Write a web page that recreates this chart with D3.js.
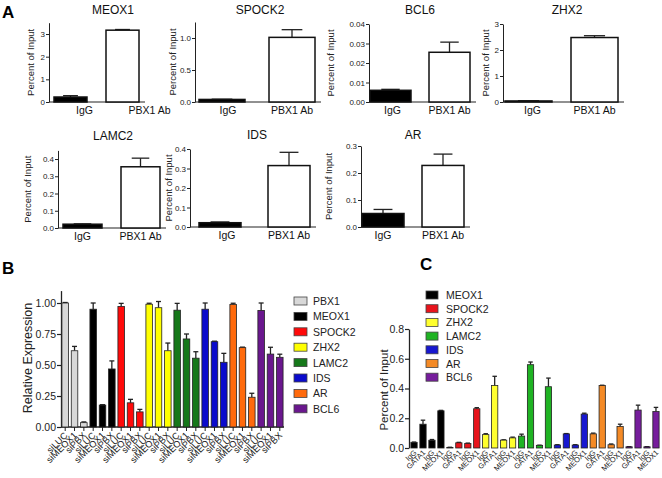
<!DOCTYPE html>
<html><head><meta charset="utf-8">
<script src="https://cdn.jsdelivr.net/npm/d3@7/dist/d3.min.js"></script>
<style>
html,body{margin:0;padding:0;background:#fff;}
svg{display:block;font-family:"Liberation Sans",Arial,sans-serif;}
</style></head>
<body><svg id="c" width="662" height="478"></svg>
<script>
// ---------- Panel A : ChIP (percent of input) ----------
const chipGenes = ["MEOX1","SPOCK2","BCL6","ZHX2","LAMC2","IDS","AR"];
const chipGroups = ["IgG","PBX1 Ab"];
const chipMeans = [[0.22,3.17],[0.04,1.01],[0.006,0.0255],[0.04,2.48],[0.022,0.355],[0.022,0.315],[0.05,0.228]];
const chipErr   = [[0.06,0.03],[0.004,0.12],[0.0005,0.0052],[0.008,0.07],[0.002,0.05],[0.004,0.068],[0.015,0.042]];
const chipMax   = [3.5,1.25,0.04,3,0.45,0.4,0.3];
const chipTicks = [[0,1,2,3],[0,0.5,1],[0,0.01,0.02,0.03,0.04],[0,1,2,3],[0,0.1,0.2,0.3,0.4],[0,0.1,0.2,0.3,0.4],[0,0.1,0.2,0.3]];
const chipTickFmt = [".0f",".1f",".2f",".0f",".1f",".1f",".1f"];

// ---------- Panel B : knockdown relative expression ----------
const kdGenes = ["PBX1","MEOX1","SPOCK2","ZHX2","LAMC2","IDS","AR","BCL6"];
const kdSi = ["siLUC","siMEOX1","siPBX"];
const kdMeans = [[1.0,0.615,0.035],[0.95,0.177,0.468],[0.972,0.195,0.122],[0.99,0.962,0.615],[0.942,0.71,0.555],[0.95,0.688,0.522],[0.988,0.64,0.24],[0.94,0.588,0.562]];
const kdErr   = [[0.004,0.035,0.006],[0.05,0.003,0.065],[0.025,0.028,0.02],[0.008,0.05,0.062],[0.055,0.04,0.052],[0.05,0.004,0.072],[0.01,0.004,0.032],[0.06,0.055,0.025]];
const kdTicks = [0,0.25,0.5,0.75,1.0];

// ---------- Panel C : GATA1 / MEOX1 ChIP ----------
const cGenes = ["MEOX1","SPOCK2","ZHX2","LAMC2","IDS","AR","BCL6"];
const cAb = ["IgG","GATA1","IgG","MEOX1"];
const cMeans = [[0.038,0.16,0.052,0.25],[0.004,0.035,0.03,0.264],[0.09,0.42,0.053,0.068],[0.08,0.56,0.018,0.412],[0.02,0.095,0.02,0.228],[0.095,0.42,0.022,0.145],[0.008,0.255,0.008,0.245]];
const cErr   = [[0.002,0.027,0.005,0.003],[0.001,0.003,0.003,0.007],[0.006,0.062,0.002,0.005],[0.013,0.018,0.001,0.058],[0.002,0.002,0.002,0.006],[0.005,0.002,0.005,0.015],[0.001,0.033,0.001,0.028]];
const cTicks = [0,0.2,0.4,0.6,0.8];

const kdColors = {PBX1:"#d8d8d8",MEOX1:"#000000",SPOCK2:"#ff0a0a",ZHX2:"#ffff00",LAMC2:"#16781a",IDS:"#0a0acc",AR:"#ff6a0c",BCL6:"#6a178e"};
const cColors  = {MEOX1:"#000000",SPOCK2:"#e8141c",ZHX2:"#ffff2e",LAMC2:"#1fb323",IDS:"#1717d0",AR:"#f48a26",BCL6:"#761d9c"};

const svg = d3.select("#c");
const AX = "#222";

function errBar(g, cx, yTop, yErr, cap){
  g.append("line").attr("x1",cx).attr("x2",cx).attr("y1",yTop).attr("y2",yErr).attr("stroke",AX).attr("stroke-width",1.3);
  g.append("line").attr("x1",cx-cap/2).attr("x2",cx+cap/2).attr("y1",yErr).attr("y2",yErr).attr("stroke",AX).attr("stroke-width",1.3);
}

// panel letters
svg.append("text").attr("x",2).attr("y",18).attr("font-size",17).attr("font-weight","bold").text("A");
svg.append("text").attr("x",2).attr("y",274).attr("font-size",17).attr("font-weight","bold").text("B");
svg.append("text").attr("x",420).attr("y",270).attr("font-size",17).attr("font-weight","bold").text("C");

// ---------- draw panel A ----------
const aLayout = [
  {ax:49, off:5, step:52, bw:33, base:102, h:79.3, title:113, ytx:34, lab:[14,27]},
  {ax:195,off:4, step:70, bw:46, base:102, h:80, title:260, ytx:176, lab:[6,0]},
  {ax:369,off:1, step:59, bw:41, base:102, h:78, title:420, ytx:334, lab:[2,0]},
  {ax:503,off:2, step:66, bw:47, base:102, h:78, title:567, ytx:489, lab:[4,0]},
  {ax:58, off:5, step:58, bw:39, base:228, h:77.6, title:113, ytx:31, lab:[0,0]},
  {ax:190,off:9, step:69, bw:42, base:227, h:78, title:257, ytx:172, lab:[7,0]},
  {ax:361,off:1, step:60, bw:42, base:227, h:81, title:413, ytx:332, lab:[0,0]}
];
chipGenes.forEach((gene,i)=>{
  const L = aLayout[i];
  const g = svg.append("g");
  const y = d3.scaleLinear().domain([0,chipMax[i]]).range([L.base, L.base-L.h]);
  const x = d3.scaleBand().domain(chipGroups).range([L.ax+L.off, L.ax+L.off+L.step+L.bw]).paddingInner((L.step-L.bw)/L.step).paddingOuter(0);
  const yAxis = d3.axisLeft(y).tickValues(chipTicks[i]).tickFormat(d3.format(chipTickFmt[i])).tickSize(3).tickSizeOuter(0);
  const ga = g.append("g").attr("transform",`translate(${L.ax},0)`).call(yAxis);
  ga.select(".domain").attr("stroke",AX).attr("stroke-width",1);
  ga.selectAll(".tick line").attr("stroke",AX);
  ga.selectAll(".tick text").attr("font-size",8).attr("fill","#222").attr("x",-4).attr("font-family","Liberation Sans, Arial");
  g.append("line").attr("x1",L.ax).attr("x2",x("PBX1 Ab")+x.bandwidth()+6).attr("y1",L.base).attr("y2",L.base).attr("stroke",AX).attr("stroke-width",1);
  chipGroups.forEach((grp,j)=>{
    const v = chipMeans[i][j], e = chipErr[i][j];
    const bx = x(grp), bw = x.bandwidth();
    errBar(g, bx+bw/2, y(v), y(v+e), bw*0.45);
    g.append("rect").attr("x",bx).attr("y",y(v)).attr("width",bw).attr("height",L.base-y(v))
      .attr("fill", j===0?"#000":"#fff").attr("stroke","#111").attr("stroke-width",1.5);
    g.append("text").attr("x",bx+bw/2+L.lab[j]).attr("y",L.base+12).attr("text-anchor","middle")
      .attr("font-size",10.5).attr("fill","#111").text(grp);
  });
  g.append("text").attr("x",L.title).attr("y",L.base-88).attr("text-anchor","middle")
    .attr("font-size",12).attr("fill","#111").text(gene);
  g.append("text").attr("transform",`translate(${L.ytx},${L.base-L.h/2}) rotate(-90)`).attr("text-anchor","middle")
    .attr("font-size",9.5).attr("fill","#222").text("Percent of Input");
});

// ---------- draw panel B ----------
(function(){
  const g = svg.append("g");
  const base = 427, ax = 61;
  const y = d3.scaleLinear().domain([0,1.1]).range([base, base-136.4]);
  const idx = d3.range(kdGenes.length*kdSi.length);
  const x = d3.scaleBand().domain(idx).range([ax, 284]).paddingInner(0.3).paddingOuter(0.1);
  const yAxis = d3.axisLeft(y).tickValues(kdTicks).tickFormat(d3.format(".2f")).tickSize(4).tickSizeOuter(0);
  const ga = g.append("g").attr("transform",`translate(${ax},0)`).call(yAxis);
  ga.select(".domain").attr("stroke",AX).attr("stroke-width",1.3);
  ga.selectAll(".tick line").attr("stroke",AX).attr("stroke-width",1.2);
  ga.selectAll(".tick text").attr("font-size",10.5).attr("fill","#222").attr("x",-5).attr("font-family","Liberation Sans Narrow, Liberation Sans, Arial");
  g.append("line").attr("x1",ax).attr("x2",284).attr("y1",base).attr("y2",base).attr("stroke",AX).attr("stroke-width",1.3);
  kdGenes.forEach((gene,i)=>{
    kdSi.forEach((si,j)=>{
      const k = i*kdSi.length+j;
      const v = kdMeans[i][j], e = kdErr[i][j];
      const bx = x(k), bw = x.bandwidth(), cx = bx+bw/2;
      errBar(g, cx, y(v), y(v+e), 5);
      g.append("rect").attr("x",bx).attr("y",y(v)).attr("width",bw).attr("height",base-y(v))
        .attr("fill",kdColors[gene]).attr("stroke","#222").attr("stroke-width",0.8);
      g.append("line").attr("x1",cx).attr("x2",cx).attr("y1",base).attr("y2",base+4).attr("stroke",AX).attr("stroke-width",1);
      g.append("text").attr("transform",`translate(${cx+3},${base+9}) rotate(-45)`).attr("text-anchor","end")
        .attr("font-size",9.2).attr("fill","#222").text(si);
    });
  });
  g.append("text").attr("transform",`translate(32,358) rotate(-90)`).attr("text-anchor","middle")
    .attr("font-size",12.5).attr("fill","#222").text("Relative Expression");
  kdGenes.forEach((gene,i)=>{
    const ly = 301 + i*15.4;
    g.append("rect").attr("x",294).attr("y",ly-4).attr("width",13).attr("height",8).attr("fill",kdColors[gene]).attr("stroke","#444").attr("stroke-width",0.8);
    g.append("text").attr("x",313).attr("y",ly+4).attr("font-size",10.5).attr("fill","#222").text(gene);
  });
})();

// ---------- draw panel C ----------
(function(){
  const g = svg.append("g");
  const base = 448, ax = 409;
  const y = d3.scaleLinear().domain([0,0.8]).range([base, 329]);
  const idx = d3.range(cGenes.length*cAb.length);
  const x = d3.scaleBand().domain(idx).range([410, 660]).paddingInner(0.3).paddingOuter(0.1);
  const yAxis = d3.axisLeft(y).tickValues(cTicks).tickFormat(d3.format(".1f")).tickSize(4).tickSizeOuter(0);
  const ga = g.append("g").attr("transform",`translate(${ax},0)`).call(yAxis);
  ga.select(".domain").attr("stroke",AX).attr("stroke-width",1.3);
  ga.selectAll(".tick line").attr("stroke",AX).attr("stroke-width",1.2);
  ga.selectAll(".tick text").attr("font-size",10.5).attr("fill","#222").attr("x",-5);
  cGenes.forEach((gene,i)=>{
    cAb.forEach((ab,j)=>{
      const k = i*cAb.length+j;
      const v = cMeans[i][j], e = cErr[i][j];
      const bx = x(k), bw = x.bandwidth(), cx = bx+bw/2;
      errBar(g, cx, y(v), y(v+e), 4.5);
      g.append("rect").attr("x",bx).attr("y",y(v)).attr("width",bw).attr("height",base-y(v))
        .attr("fill",cColors[gene]).attr("stroke","#222").attr("stroke-width",0.8);
      g.append("text").attr("transform",`translate(${cx+3},${base+5}) rotate(-45)`).attr("text-anchor","end")
        .attr("font-size",7.5).attr("fill","#222").text(ab);
    });
  });
  g.append("text").attr("transform",`translate(388,390) rotate(-90)`).attr("text-anchor","middle")
    .attr("font-size",11.5).attr("fill","#222").text("Percent of Input");
  cGenes.forEach((gene,i)=>{
    const ly = 295 + i*13.7;
    g.append("rect").attr("x",426).attr("y",ly-4).attr("width",12).attr("height",8).attr("fill",cColors[gene]).attr("stroke","#444").attr("stroke-width",0.8);
    g.append("text").attr("x",446).attr("y",ly+4).attr("font-size",10.5).attr("fill","#222").text(gene);
  });
})();
</script></body></html>
